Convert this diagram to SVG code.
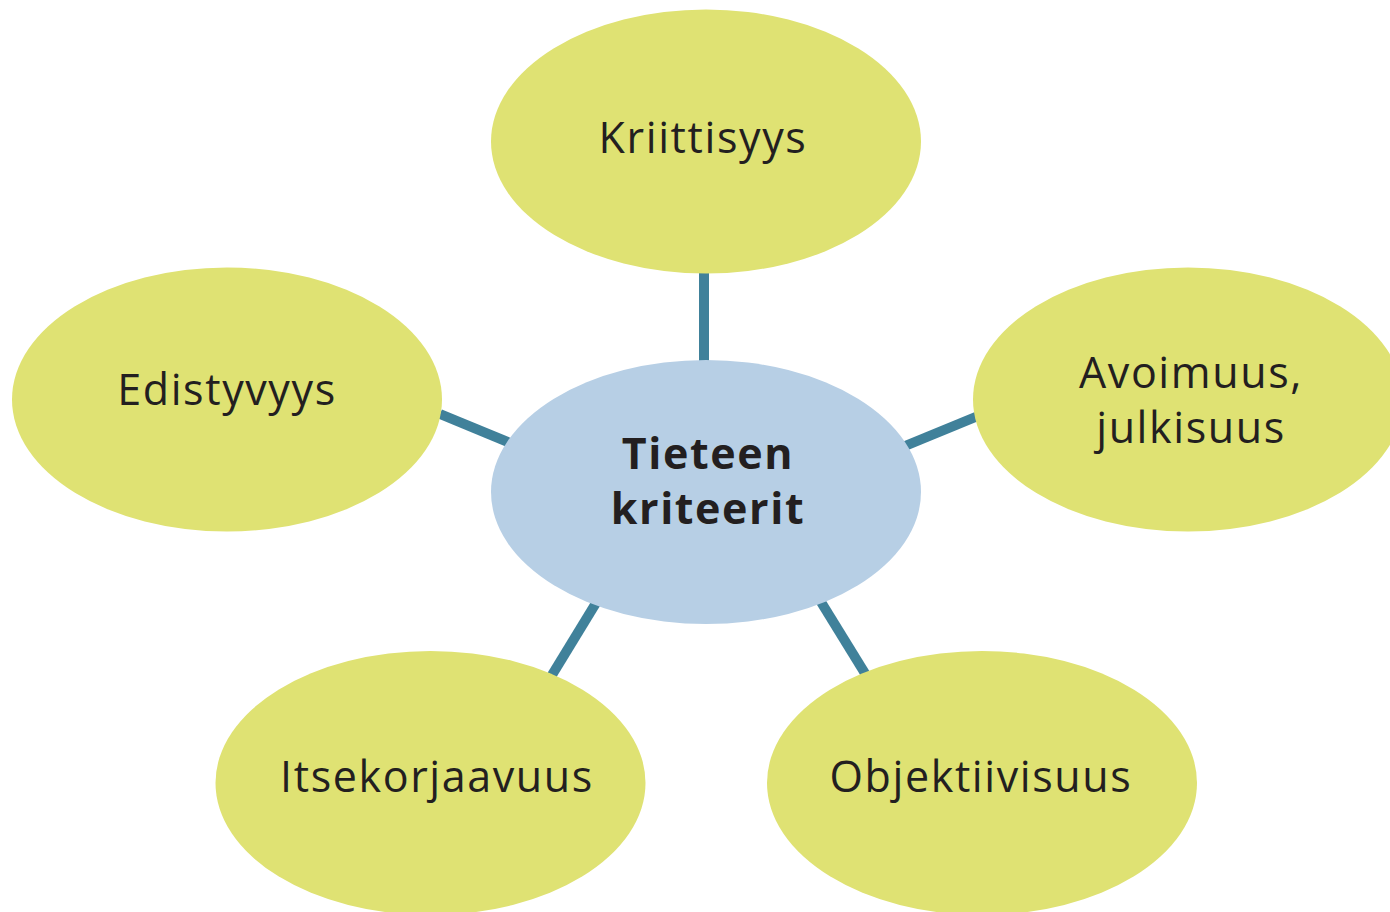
<svg xmlns="http://www.w3.org/2000/svg" width="1390" height="912" viewBox="0 0 1390 912">
<style>
.leaf{fill:#dfe273}
.hub{fill:#b7cfe5}
.lbl{font-family:"Open Sans","Noto Sans",sans-serif;font-size:43px;letter-spacing:1.6px;fill:#231f20;text-anchor:middle}
.hubl{font-weight:bold}
.conn line{stroke:#40819a;stroke-width:10}
</style>
<rect width="1390" height="912" fill="#ffffff"/>
<g id="connectors" class="conn">
<line x1="704" y1="270" x2="704" y2="365"/>
<line x1="440" y1="414" x2="510" y2="443"/>
<line x1="905" y1="446" x2="978" y2="416"/>
<line x1="596" y1="603" x2="552" y2="675"/>
<line x1="821" y1="602" x2="866" y2="675"/>
</g>
<g id="node-center">
<ellipse class="hub" cx="706" cy="492" rx="215" ry="132"/>
<text class="lbl hubl" x="708" y="469">Tieteen</text>
<text class="lbl hubl" x="708" y="524">kriteerit</text>
</g>
<g id="node-kriittisyys">
<ellipse class="leaf" cx="706" cy="141.5" rx="215" ry="132"/>
<text class="lbl" x="703" y="153">Kriittisyys</text>
</g>
<g id="node-edistyvyys">
<ellipse class="leaf" cx="227" cy="399.5" rx="215" ry="132"/>
<text class="lbl" x="227" y="405">Edistyvyys</text>
</g>
<g id="node-avoimuus">
<ellipse class="leaf" cx="1188" cy="399.5" rx="215" ry="132"/>
<text class="lbl" x="1191" y="388">Avoimuus,</text>
<text class="lbl" x="1191" y="443">julkisuus</text>
</g>
<g id="node-itsekorjaavuus">
<ellipse class="leaf" cx="430.5" cy="783" rx="215" ry="132"/>
<text class="lbl" x="437" y="792">Itsekorjaavuus</text>
</g>
<g id="node-objektiivisuus">
<ellipse class="leaf" cx="982" cy="783" rx="215" ry="132"/>
<text class="lbl" x="981" y="792">Objektiivisuus</text>
</g>
</svg>
